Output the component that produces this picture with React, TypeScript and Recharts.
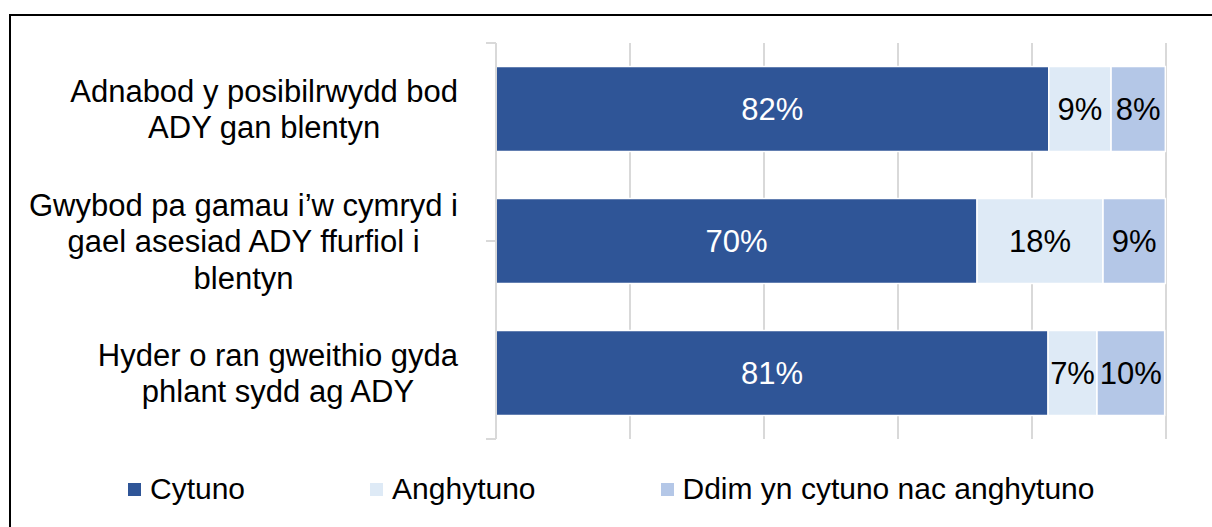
import { BarChart, Bar, XAxis, YAxis, CartesianGrid, LabelList } from "recharts";

const categories = [
  ["Adnabod y posibilrwydd bod", "ADY gan blentyn"],
  ["Gwybod pa gamau i\u2019w cymryd i", "gael asesiad ADY ffurfiol i", "blentyn"],
  ["Hyder o ran gweithio gyda", "phlant sydd ag ADY"],
];

const cytuno = [82.5, 71.8, 82.4];
const anghytuno = [9.3, 18.8, 7.3];
const ddim = [8.1, 9.3, 10.1];

const cytunoLabels = ["82%", "70%", "81%"];
const anghytunoLabels = ["9%", "18%", "7%"];
const ddimLabels = ["8%", "9%", "10%"];

const xTicks = [0, 20, 40, 60, 80, 100];
const bandTicks = [0, 1, 2, 3];

const series = [
  { key: "cytuno", name: "Cytuno", color: "#2F5597", labelColor: "#ffffff" },
  { key: "anghytuno", name: "Anghytuno", color: "#DEEAF6", labelColor: "#000000" },
  { key: "ddim", name: "Ddim yn cytuno nac anghytuno", color: "#B4C7E7", labelColor: "#000000" },
];

const data = categories.map((lines, i) => ({
  name: lines.join(" "),
  lines,
  cytuno: cytuno[i],
  anghytuno: anghytuno[i],
  ddim: ddim[i],
  cytunoLabel: cytunoLabels[i],
  anghytunoLabel: anghytunoLabels[i],
  ddimLabel: ddimLabels[i],
}));

const FONT = "Liberation Sans, Arial, sans-serif";
const LABEL_SIZE = 31;
const LINE_HEIGHT = 36.5;

let ctx: CanvasRenderingContext2D | null = null;
function textWidth(s: string) {
  if (!ctx) ctx = document.createElement("canvas").getContext("2d");
  if (!ctx) return s.length * LABEL_SIZE * 0.5;
  ctx.font = `${LABEL_SIZE}px "Liberation Sans"`;
  return ctx.measureText(s).width;
}

// multi-line label, lines centred on each other, block right-aligned to the tick
function CategoryTick({ x, y, index }: any) {
  const lines = data[index]?.lines ?? [];
  const maxW = Math.max(...lines.map(textWidth));
  const cx = x - maxW / 2;
  const n = lines.length;
  return (
    <g>
      {lines.map((line: string, i: number) => (
        <text
          key={i}
          x={cx}
          y={y + (i - (n - 1) / 2) * LINE_HEIGHT + 11}
          textAnchor="middle"
          fontFamily={FONT}
          fontSize={LABEL_SIZE}
          fill="#000"
        >
          {line}
        </text>
      ))}
    </g>
  );
}

const categoryTick = <CategoryTick />;
const blank = () => "";

export default function App() {
  return (
    <div style={{ position: "absolute", left: 0, top: 0, width: 1212, height: 527, background: "#fff", overflow: "hidden" }}>
      <div style={{ position: "absolute", left: 0, top: 0 }}>
        <BarChart
          width={1212}
          height={527}
          data={data}
          layout="vertical"
          barCategoryGap="17.8%"
          margin={{ top: 43, right: 46, bottom: 88, left: 0 }}
        >
          <CartesianGrid horizontal={false} stroke="#d9d9d9" strokeWidth={2} yAxisId={1} />
          <XAxis type="number" domain={[0, 100]} ticks={xTicks} hide />
          {/* numeric axis only for the tick marks between categories */}
          <YAxis
            yAxisId={0}
            type="number"
            domain={[0, 3]}
            ticks={bandTicks}
            width={10}
            tickSize={10}
            tickMargin={0}
            tickFormatter={blank}
            axisLine={{ stroke: "#d9d9d9", strokeWidth: 2 }}
            tickLine={{ stroke: "#d9d9d9", strokeWidth: 2 }}
          />
          <YAxis
            yAxisId={1}
            type="category"
            dataKey="name"
            width={486}
            axisLine={false}
            tickLine={false}
            tickSize={0}
            tickMargin={28}
            tick={categoryTick}
            interval={0}
          />
          {series.map(s => (
            <Bar
              key={s.key}
              dataKey={s.key}
              name={s.name}
              yAxisId={1}
              stackId="a"
              fill={s.color}
              stroke="#ffffff"
              strokeWidth={1.5}
              isAnimationActive={false}
            >
              <LabelList
                dataKey={`${s.key}Label`}
                position="center"
                fill={s.labelColor}
                fontFamily={FONT}
                fontSize={LABEL_SIZE}
              />
            </Bar>
          ))}
        </BarChart>
      </div>
      <div
        style={{
          position: "absolute",
          left: 9,
          top: 14,
          width: 1240,
          height: 600,
          border: "2px solid #000",
          pointerEvents: "none",
        }}
      />
      <div
        style={{
          position: "absolute",
          left: 128,
          top: 472,
          display: "flex",
          alignItems: "center",
          fontFamily: FONT,
          fontSize: 30,
          color: "#000",
          whiteSpace: "nowrap",
        }}
      >
        {series.map((s, i) => (
          <div key={s.key} style={{ display: "flex", alignItems: "center", marginRight: i < series.length - 1 ? 125 : 0 }}>
            <span style={{ display: "inline-block", width: 13, height: 13, background: s.color, marginRight: 9 }} />
            <span>{s.name}</span>
          </div>
        ))}
      </div>
    </div>
  );
}
